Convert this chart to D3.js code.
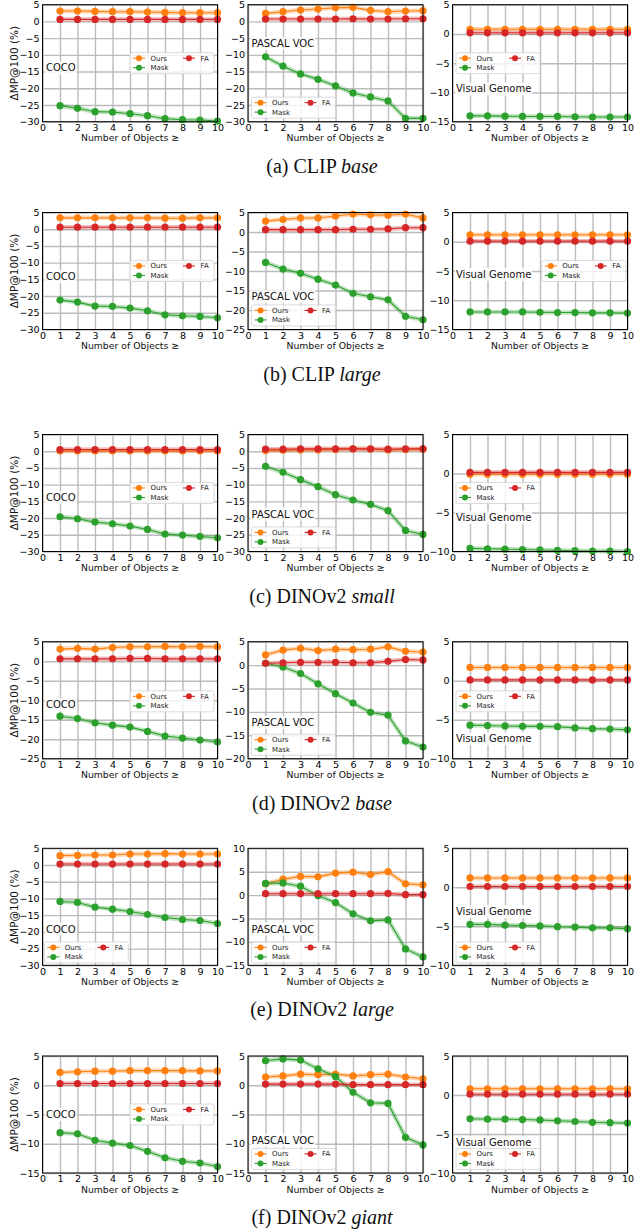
<!DOCTYPE html>
<html><head><meta charset="utf-8">
<script src="https://cdn.jsdelivr.net/npm/d3@7"></script>
<style>body{margin:0;background:#fff} svg{display:block}</style>
</head><body>
<script>
// ---------------- DATA ----------------
const objectCounts = [1, 2, 3, 4, 5, 6, 7, 8, 9, 10];
const xTickValues = [0, 1, 2, 3, 4, 5, 6, 7, 8, 9, 10];
const datasets = ["COCO", "PASCAL VOC", "Visual Genome"];
const seriesNames = ["Ours", "Mask", "FA"];
const modelNames = ["CLIP", "CLIP", "DINOv2", "DINOv2", "DINOv2", "DINOv2"];
const modelSizes = ["base", "large", "small", "base", "large", "giant"];
const panelLetters = ["a", "b", "c", "d", "e", "f"];
const yLabel = "ΔMP@100 (%)";
const xLabel = "Number of Objects ≥";

// y-axis ranges per row: [COCO, PASCAL VOC, Visual Genome]
const yMinByRow = [[-30, -30, -15], [-30, -25, -15], [-30, -30, -10], [-25, -20, -10], [-30, -15, -10], [-15, -15, -10]];
const yMaxByRow = [[5, 5, 5], [5, 5, 5], [5, 5, 5], [5, 5, 5], [5, 10, 5], [5, 5, 5]];

// (a) CLIP base
const clipBaseOurs = [
  [3.1, 3.1, 3.0, 2.9, 2.9, 2.8, 2.7, 2.6, 2.6, 2.6],
  [2.4, 2.9, 3.4, 3.7, 4.1, 4.2, 3.3, 2.9, 3.1, 3.2],
  [0.8, 0.8, 0.8, 0.8, 0.8, 0.8, 0.8, 0.8, 0.8, 0.8]];
const clipBaseMask = [
  [-25.2, -26.0, -27.0, -27.1, -27.6, -28.2, -29.1, -29.4, -29.5, -29.8],
  [-10.6, -13.4, -15.7, -17.3, -19.3, -21.4, -22.6, -23.8, -29.0, -29.0],
  [-14.0, -14.0, -14.05, -14.1, -14.1, -14.1, -14.15, -14.2, -14.2, -14.2]];
const clipBaseFA = [
  [0.6, 0.6, 0.6, 0.6, 0.6, 0.6, 0.6, 0.6, 0.6, 0.6],
  [0.7, 0.7, 0.7, 0.7, 0.7, 0.8, 0.7, 0.7, 0.8, 0.8],
  [0.2, 0.2, 0.2, 0.2, 0.2, 0.2, 0.2, 0.2, 0.2, 0.2]];
// (b) CLIP large
const clipLargeOurs = [
  [3.4, 3.4, 3.4, 3.4, 3.4, 3.4, 3.3, 3.3, 3.4, 3.4],
  [2.8, 3.2, 3.6, 3.6, 4.1, 4.6, 4.4, 4.3, 4.6, 3.6],
  [1.2, 1.2, 1.2, 1.2, 1.2, 1.2, 1.2, 1.2, 1.2, 1.2]];
const clipLargeMask = [
  [-21.2, -21.8, -23.0, -23.1, -23.6, -24.4, -25.6, -25.9, -26.1, -26.5],
  [-7.8, -9.5, -10.6, -12.1, -13.6, -15.7, -16.6, -17.4, -21.6, -22.5],
  [-12.0, -12.0, -12.0, -12.0, -12.05, -12.1, -12.1, -12.15, -12.15, -12.2]];
const clipLargeFA = [
  [0.6, 0.6, 0.6, 0.6, 0.6, 0.6, 0.6, 0.6, 0.6, 0.6],
  [0.6, 0.6, 0.6, 0.6, 0.6, 0.7, 0.7, 0.8, 1.1, 1.1],
  [0.1, 0.1, 0.1, 0.1, 0.1, 0.1, 0.1, 0.1, 0.1, 0.1]];
// (c) DINOv2 small
const dinoSmallOurs = [
  [0.1, 0.1, 0.1, 0.1, 0.1, 0.1, 0.1, 0.1, 0.1, 0.1],
  [0.2, 0.3, 0.4, 0.4, 0.5, 0.7, 0.6, 0.4, 0.5, 0.6],
  [-0.1, -0.1, -0.1, -0.1, -0.1, -0.1, -0.1, -0.1, -0.1, -0.1]];
const dinoSmallMask = [
  [-19.6, -20.2, -21.2, -21.7, -22.4, -23.4, -24.8, -25.1, -25.5, -25.9],
  [-4.5, -6.3, -8.5, -10.6, -13.0, -14.6, -15.9, -17.8, -23.7, -24.9],
  [-9.6, -9.65, -9.7, -9.75, -9.8, -9.85, -9.9, -9.95, -9.95, -10.0]];
const dinoSmallFA = [
  [0.5, 0.5, 0.5, 0.5, 0.5, 0.5, 0.5, 0.5, 0.5, 0.5],
  [0.6, 0.6, 0.7, 0.7, 0.7, 0.7, 0.7, 0.6, 0.7, 0.7],
  [0.15, 0.15, 0.15, 0.15, 0.15, 0.15, 0.15, 0.15, 0.15, 0.15]];
// (d) DINOv2 base
const dinoBaseOurs = [
  [3.1, 3.3, 3.1, 3.5, 3.7, 3.7, 3.8, 3.7, 3.8, 3.7],
  [2.2, 3.2, 3.6, 3.1, 3.4, 3.3, 3.4, 3.9, 2.95, 2.8],
  [1.7, 1.7, 1.7, 1.7, 1.7, 1.7, 1.7, 1.7, 1.7, 1.7]];
const dinoBaseMask = [
  [-14.1, -14.7, -15.8, -16.4, -16.9, -18.0, -19.2, -19.7, -20.2, -20.7],
  [0.4, -0.4, -1.8, -4.0, -6.1, -8.1, -10.1, -10.7, -16.2, -17.5],
  [-5.7, -5.75, -5.8, -5.85, -5.85, -5.9, -6.05, -6.15, -6.2, -6.3]];
const dinoBaseFA = [
  [0.6, 0.6, 0.6, 0.6, 0.7, 0.7, 0.6, 0.6, 0.6, 0.6],
  [0.4, 0.5, 0.6, 0.6, 0.6, 0.5, 0.5, 0.8, 1.2, 1.1],
  [0.1, 0.1, 0.1, 0.1, 0.1, 0.1, 0.1, 0.1, 0.1, 0.1]];
// (e) DINOv2 large
const dinoLargeOurs = [
  [2.8, 2.9, 3.0, 3.0, 3.3, 3.3, 3.4, 3.3, 3.3, 3.3],
  [2.4, 3.4, 4.0, 3.9, 4.7, 4.9, 4.4, 5.0, 2.4, 2.2],
  [1.2, 1.2, 1.2, 1.2, 1.2, 1.2, 1.2, 1.2, 1.2, 1.2]];
const dinoLargeMask = [
  [-10.9, -11.2, -12.6, -13.2, -13.9, -14.8, -15.7, -16.3, -16.6, -17.5],
  [2.5, 2.6, 1.9, -0.1, -1.6, -4.0, -5.5, -5.3, -11.5, -13.2],
  [-4.75, -4.75, -4.85, -4.9, -4.95, -5.05, -5.1, -5.2, -5.2, -5.3]];
const dinoLargeFA = [
  [0.3, 0.3, 0.3, 0.3, 0.3, 0.3, 0.3, 0.3, 0.3, 0.3],
  [0.3, 0.3, 0.3, 0.3, 0.3, 0.3, 0.3, 0.35, 0.1, 0.1],
  [0.1, 0.1, 0.1, 0.1, 0.1, 0.1, 0.1, 0.1, 0.1, 0.1]];
// (f) DINOv2 giant
const dinoGiantOurs = [
  [2.2, 2.3, 2.4, 2.4, 2.5, 2.5, 2.5, 2.5, 2.45, 2.45],
  [1.4, 1.6, 1.9, 1.8, 1.9, 1.6, 1.8, 1.9, 1.4, 1.1],
  [0.8, 0.8, 0.8, 0.8, 0.8, 0.8, 0.8, 0.8, 0.8, 0.8]];
const dinoGiantMask = [
  [-8.1, -8.3, -9.4, -9.9, -10.3, -11.3, -12.4, -13.0, -13.3, -13.9],
  [4.2, 4.5, 4.3, 2.8, 1.5, -1.2, -3.0, -3.1, -8.9, -10.2],
  [-3.05, -3.1, -3.1, -3.15, -3.2, -3.3, -3.4, -3.5, -3.55, -3.6]];
const dinoGiantFA = [
  [0.3, 0.3, 0.3, 0.3, 0.3, 0.3, 0.3, 0.3, 0.3, 0.3],
  [0.2, 0.2, 0.2, 0.2, 0.2, 0.1, 0.1, 0.1, 0.1, 0.1],
  [0.1, 0.1, 0.1, 0.1, 0.1, 0.1, 0.1, 0.1, 0.1, 0.1]];

const rowsData = [
  [clipBaseOurs, clipBaseMask, clipBaseFA],
  [clipLargeOurs, clipLargeMask, clipLargeFA],
  [dinoSmallOurs, dinoSmallMask, dinoSmallFA],
  [dinoBaseOurs, dinoBaseMask, dinoBaseFA],
  [dinoLargeOurs, dinoLargeMask, dinoLargeFA],
  [dinoGiantOurs, dinoGiantMask, dinoGiantFA]];

// ---------------- LAYOUT / STYLE ----------------
const seriesColors = { Ours: "#ff7f0e", Mask: "#2ca02c", FA: "#d62728" };
const colLeft = [42.5, 248, 452.5];
const plotW = 175, plotH = 117;
const rowTop = [4.7, 212.5, 434.5, 641.7, 848.3, 1056];
// legend top-left (fraction of plot) and dataset label center y (fraction)
const legendPos = [
  [[0.50, 0.41], [0.02, 0.79], [0.02, 0.41]],
  [[0.50, 0.41], [0.02, 0.79], [0.51, 0.41]],
  [[0.50, 0.41], [0.02, 0.79], [0.02, 0.41]],
  [[0.50, 0.42], [0.02, 0.79], [0.02, 0.42]],
  [[0.01, 0.80], [0.02, 0.80], [0.02, 0.80]],
  [[0.50, 0.41], [0.02, 0.79], [0.02, 0.79]]];
const labelPosY = [
  [0.54, 0.33, 0.72],
  [0.55, 0.72, 0.53],
  [0.54, 0.68, 0.71],
  [0.54, 0.69, 0.83],
  [0.69, 0.69, 0.54],
  [0.50, 0.72, 0.74]];

const sans = "DejaVu Sans, sans-serif";
const W = 634, H = 1232;
const svg = d3.select("body").append("svg").attr("width", W).attr("height", H)
  .style("font-family", sans);

const fmtY = d => d < 0 ? "\u2212" + Math.abs(d) : String(d);

rowsData.forEach((rowSeries, r) => {
  const top = rowTop[r];
  datasets.forEach((ds, c) => {
    const left = colLeft[c];
    const yMin = yMinByRow[r][c], yMax = yMaxByRow[r][c];
    const x = d3.scaleLinear().domain([0, 10]).range([left, left + plotW]);
    const y = d3.scaleLinear().domain([yMin, yMax]).range([top + plotH, top]);
    const yTicks = d3.range(yMin, yMax + 0.01, 5);
    const g = svg.append("g");

    // grid
    g.append("g").attr("transform", `translate(0,${top + plotH})`)
      .call(d3.axisBottom(x).tickValues(xTickValues).tickSize(-plotH).tickFormat(""))
      .call(s => s.select(".domain").remove())
      .call(s => s.selectAll("line").attr("stroke", "#bbbbbb").attr("stroke-width", 1.4));
    g.append("g").attr("transform", `translate(${left},0)`)
      .call(d3.axisLeft(y).tickValues(yTicks).tickSize(-plotW).tickFormat(""))
      .call(s => s.select(".domain").remove())
      .call(s => s.selectAll("line").attr("stroke", "#bbbbbb").attr("stroke-width", 1.4));

    // series
    const line = d3.line().x((d, i) => x(objectCounts[i])).y(d => y(d));
    seriesNames.forEach((name, si) => {
      const vals = rowSeries[si][c];
      const col = seriesColors[name];
      g.append("path").attr("d", line(vals)).attr("fill", "none")
        .attr("stroke", col).attr("stroke-width", 4.5).attr("stroke-opacity", 0.3)
        .attr("stroke-linejoin", "round");
      g.append("path").attr("d", line(vals)).attr("fill", "none")
        .attr("stroke", col).attr("stroke-width", 1.1);
      g.selectAll(null).data(vals).enter().append("circle")
        .attr("cx", (d, i) => x(objectCounts[i])).attr("cy", d => y(d))
        .attr("r", 3.6).attr("fill", col);
    });

    // dataset label
    const lbl = g.append("text").attr("x", left + 3.5).attr("y", top + plotH * labelPosY[r][c])
      .attr("dy", "0.35em").attr("font-size", 10).attr("fill", "#111").text(ds);
    const bb = lbl.node().getBBox();
    g.insert("rect", () => lbl.node()).attr("x", bb.x - 1).attr("y", bb.y - 1)
      .attr("width", bb.width + 2).attr("height", bb.height + 2)
      .attr("fill", "#fff").attr("fill-opacity", 0.85);

    // legend
    const lx = left + plotW * legendPos[r][c][0], ly = top + plotH * legendPos[r][c][1];
    const lg = g.append("g").attr("transform", `translate(${lx},${ly})`);
    lg.append("rect").attr("width", 84).attr("height", 21).attr("rx", 2)
      .attr("fill", "#fff").attr("fill-opacity", 0.8).attr("stroke", "#d0d0d0").attr("stroke-width", 0.8);
    const items = [
      { name: "Ours", hx: 9, ty: 5.5 },
      { name: "Mask", hx: 9, ty: 15 },
      { name: "FA", hx: 59, ty: 5.5 }];
    items.forEach(it => {
      const col = seriesColors[it.name];
      lg.append("line").attr("x1", it.hx - 6).attr("x2", it.hx + 6)
        .attr("y1", it.ty).attr("y2", it.ty).attr("stroke", col).attr("stroke-width", 1.1);
      lg.append("circle").attr("cx", it.hx).attr("cy", it.ty).attr("r", 3).attr("fill", col);
      lg.append("text").attr("x", it.hx + 11.5).attr("y", it.ty).attr("dy", "0.35em")
        .attr("font-size", 7).attr("fill", "#222").text(it.name);
    });

    // frame
    g.append("rect").attr("x", left).attr("y", top).attr("width", plotW).attr("height", plotH)
      .attr("fill", "none").attr("stroke", "#000").attr("stroke-width", 1);

    // tick labels
    g.append("g").attr("transform", `translate(0,${top + plotH})`)
      .call(d3.axisBottom(x).tickValues(xTickValues).tickSize(0).tickPadding(2.5))
      .call(s => s.select(".domain").remove())
      .call(s => s.selectAll("text").attr("font-size", 9.5).attr("font-family", sans).attr("fill", "#000"));
    g.append("g").attr("transform", `translate(${left},0)`)
      .call(d3.axisLeft(y).tickValues(yTicks).tickSize(0).tickPadding(3).tickFormat(fmtY))
      .call(s => s.select(".domain").remove())
      .call(s => s.selectAll("text").attr("font-size", 9.5).attr("font-family", sans).attr("fill", "#000"));

    // x label
    g.append("text").attr("x", left + plotW / 2).attr("y", top + plotH + 19.5)
      .attr("text-anchor", "middle").attr("font-size", 9.3).attr("fill", "#111").text(xLabel);

    if (c === 0) {
      g.append("text").attr("transform", `translate(14,${top + plotH / 2}) rotate(-90)`)
        .attr("text-anchor", "middle").attr("dy", "0.35em").attr("font-size", 10.5)
        .attr("fill", "#111").text(yLabel);
    }
  });

  // caption
  const cap = svg.append("text").attr("x", 322).attr("y", top + plotH + 51)
    .attr("text-anchor", "middle").attr("font-family", "Liberation Serif, Times New Roman, serif")
    .attr("font-size", 20).attr("fill", "#111");
  cap.append("tspan").text(`(${panelLetters[r]}) ${modelNames[r]} `);
  cap.append("tspan").attr("font-style", "italic").text(modelSizes[r]);
});
</script>
</body></html>
